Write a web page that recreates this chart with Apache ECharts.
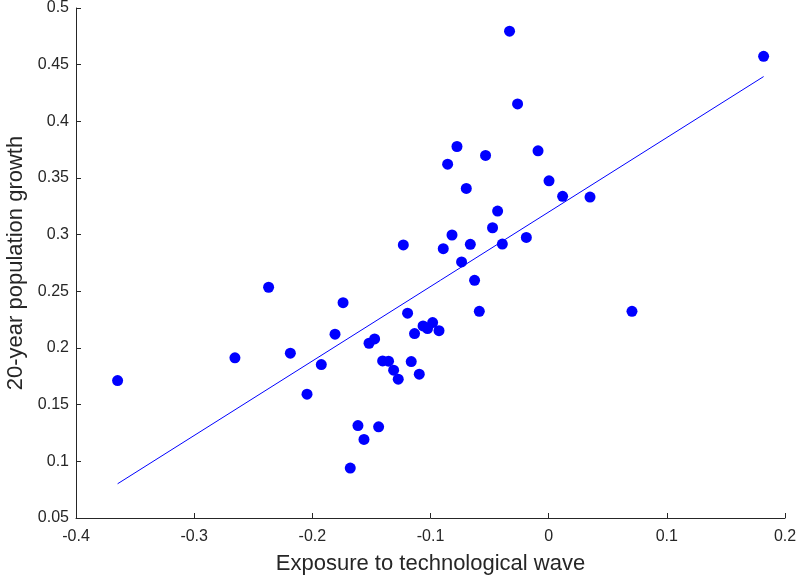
<!DOCTYPE html>
<html>
<head>
<meta charset="utf-8">
<script src="https://cdn.jsdelivr.net/npm/echarts@6/dist/echarts.min.js"></script>
<style>html,body{margin:0;padding:0;background:#fff;}#c{width:796px;height:579px;}</style>
</head>
<body>
<div id="c"></div>
<script>
const exposure = [-0.0331, 0.1819, -0.0263, -0.0776, -0.0090, -0.0534, -0.0855, 0.0003, -0.0697, 0.0118,
  0.0350, -0.0432, -0.0475, -0.0818, -0.1230, -0.0663, -0.0392, -0.0892, -0.0189, -0.0737,
  -0.0627, -0.2370, -0.0587, -0.1194, 0.0705, -0.1063, -0.0982, -0.1025, -0.0928, -0.1135,
  -0.1163, -0.1095, -0.1473, -0.1520, -0.1405, -0.1355, -0.1312, -0.1273, -0.1808, -0.2186,
  -0.1924, -0.2045, -0.1614, -0.1439, -0.1563, -0.1679, -0.1740, -0.3648, -0.2655];
const growth = [0.4795, 0.4574, 0.4154, 0.3778, 0.3740, 0.3699, 0.3622, 0.3475, 0.3408, 0.3338,
  0.3332, 0.3208, 0.3061, 0.2997, 0.2909, 0.2915, 0.2917, 0.2876, 0.2976, 0.2759,
  0.2597, 0.2536, 0.2324, 0.2307, 0.2324, 0.2195, 0.2224, 0.2171, 0.2153, 0.2127,
  0.1880, 0.1769, 0.2080, 0.2042, 0.1886, 0.1884, 0.1804, 0.1725, 0.2122, 0.1954,
  0.1854, 0.1593, 0.1316, 0.1305, 0.1193, 0.0941, 0.2400, 0.1713, 0.1913];
const fitX = [-0.3648, 0.1819];
const fitY = [0.0802, 0.4395];

const font = '"Liberation Sans", Arial, sans-serif';
const axisColor = '#262626';
const chart = echarts.init(document.getElementById('c'));
chart.setOption({
  animation: false,
  grid: {left: 76, right: 11, top: 8, bottom: 61, containLabel: false, outerBoundsMode: 'none'},
  xAxis: {
    type: 'value', min: -0.4, max: 0.2, interval: 0.1,
    name: 'Exposure to technological wave', nameLocation: 'middle', nameGap: 35,
    nameTextStyle: {fontSize: 22, color: axisColor, fontFamily: font},
    axisLine: {show: true, onZero: false, lineStyle: {color: axisColor, width: 1}},
    axisTick: {show: true, inside: true, length: 5, lineStyle: {color: axisColor}},
    axisLabel: {fontSize: 16, color: axisColor, fontFamily: font, margin: 11},
    splitLine: {show: false}
  },
  yAxis: {
    type: 'value', min: 0.05, max: 0.5, interval: 0.05,
    name: '20-year population growth', nameLocation: 'middle', nameGap: 45,
    nameTextStyle: {fontSize: 22, color: axisColor, fontFamily: font},
    axisLine: {show: true, onZero: false, lineStyle: {color: axisColor, width: 1}},
    axisTick: {show: true, inside: true, length: 5, lineStyle: {color: axisColor}},
    axisLabel: {fontSize: 16, color: axisColor, fontFamily: font, margin: 7},
    splitLine: {show: false}
  },
  series: [
    {
      type: 'scatter', symbol: 'circle', symbolSize: 11,
      itemStyle: {color: '#0000ff', opacity: 1},
      data: exposure.map((x, i) => [x, growth[i]])
    },
    {
      type: 'line', symbol: 'none',
      lineStyle: {color: '#0000ff', width: 1},
      data: fitX.map((x, i) => [x, fitY[i]])
    }
  ]
});
</script>
</body>
</html>
